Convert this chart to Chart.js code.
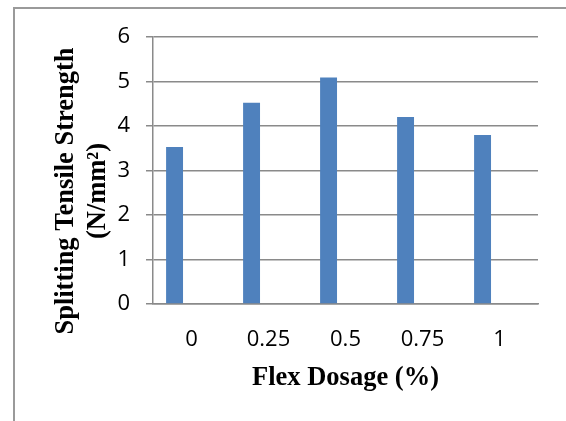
<!DOCTYPE html>
<html>
<head>
<meta charset="utf-8">
<script src="https://cdn.jsdelivr.net/npm/chart.js@4"></script>
<style>
  body { margin: 0; background: #fff; }
  #wrap { position: relative; width: 566px; height: 421px; overflow: hidden; }
  #frame { position: absolute; left: 13px; top: 7px; width: 600px; height: 500px; border: 2px solid #9a9a9a; box-sizing: border-box; }
  #chart { position: absolute; left: 0; top: 0; }
</style>
</head>
<body>
<div id="wrap">
  <div id="frame"></div>
  <canvas id="chart" width="566" height="421"></canvas>
</div>
<script>
// data
const dosages = ['0', '0.25', '0.5', '0.75', '1'];
const strength = [3.53, 4.52, 5.09, 4.2, 3.8];
// the original sheet had two more (blank) series, which pushes the bars left of the labels
const blankA = [null, null, null, null, null];
const blankB = [null, null, null, null, null];
const yTitle = ['Splitting Tensile Strength', '(N/mm\u00B2)'];
const xTitle = 'Flex Dosage (%)';

const gridGray = '#8a8a8a';
const titleFont = '"Liberation Serif", "Times New Roman", serif';

// y axis title drawn by hand so it can sit a bit lower than the plot centre
const yTitlePlugin = {
    id: 'yTitle',
    afterDraw(chart) {
        const ctx = chart.ctx;
        ctx.save();
        ctx.translate(73, 191);
        ctx.rotate(-Math.PI / 2);
        ctx.font = 'bold 26.5px ' + titleFont;
        ctx.fillStyle = '#000';
        ctx.textAlign = 'center';
        ctx.textBaseline = 'alphabetic';
        ctx.fillText(yTitle[0], 0, 0);
        ctx.fillText(yTitle[1], 0, 32);
        ctx.restore();
    }
};

const ctx = document.getElementById('chart').getContext('2d');
const chart = new Chart(ctx, {
    type: 'bar',
    data: {
        labels: dosages,
        datasets: [
            { data: strength, backgroundColor: '#4F81BD' },
            { data: blankA, backgroundColor: '#C0504D' },
            { data: blankB, backgroundColor: '#9BBB59' }
        ]
    },
    options: {
        responsive: false,
        animation: false,
        layout: { padding: { top: 37, right: 28, left: 0, bottom: 0 } },
        datasets: {
            bar: { categoryPercentage: 0.66, barPercentage: 1, borderWidth: 0 }
        },
        plugins: {
            legend: { display: false },
            tooltip: { enabled: false }
        },
        scales: {
            x: {
                grid: { display: false, drawTicks: false },
                border: { display: true, color: gridGray, width: 1.5 },
                ticks: {
                    color: '#000',
                    padding: 23,
                    font: { family: '"Open Sans", sans-serif', size: 22 }
                },
                title: {
                    display: true,
                    text: xTitle,
                    color: '#000',
                    padding: { top: 0, bottom: 27 },
                    font: { family: titleFont, size: 26.5, weight: 'bold', lineHeight: 1.2 }
                },
                afterFit: function (scale) { scale.height = 117; }
            },
            y: {
                min: 0,
                max: 6,
                ticks: {
                    stepSize: 1,
                    color: '#000',
                    padding: 16,
                    font: { family: '"Open Sans", sans-serif', size: 22 }
                },
                grid: {
                    color: gridGray,
                    lineWidth: 1.5,
                    drawTicks: true,
                    tickLength: 7
                },
                border: { display: true, color: gridGray, width: 1.5 },
                afterFit: function (scale) { scale.width = 153; }
            }
        }
    },
    plugins: [yTitlePlugin]
});
</script>
</body>
</html>
